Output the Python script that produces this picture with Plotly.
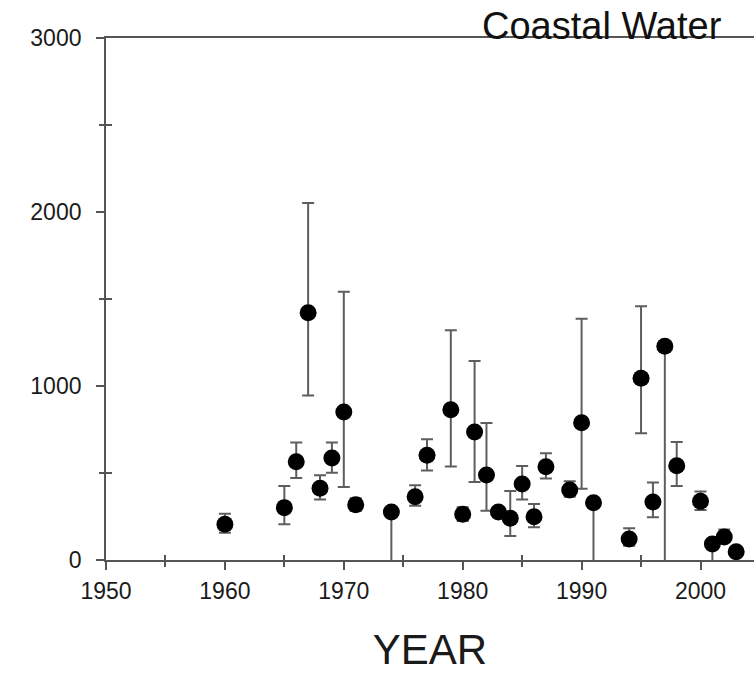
import plotly.graph_objects as go

years = [1960, 1965, 1966, 1967, 1968, 1969, 1970, 1971, 1974, 1976, 1977, 1979,
         1980, 1981, 1982, 1983, 1984, 1985, 1986, 1987, 1989, 1990, 1991, 1994,
         1995, 1996, 1997, 1998, 2000, 2001, 2002, 2003]
values = [205, 301, 565, 1421, 412, 586, 851, 318, 276, 364, 602, 864,
          263, 736, 489, 276, 240, 437, 249, 536, 402, 789, 329, 121,
          1044, 333, 1228, 542, 337, 92, 132, 48]
# upper / lower ends of the error bars (negative = runs below the axis)
err_top = [266, 425, 676, 2052, 487, 676, 1542, 355, 276, 429, 694, 1320,
           303, 1144, 787, 300, 397, 540, 322, 613, 452, 1387, 329, 182,
           1458, 446, 1228, 678, 393, 92, 176, 60]
err_bottom = [157, 205, 471, 946, 347, 502, 420, 282, -200, 312, 515, 538,
              224, 448, 283, 255, 138, 347, 188, 469, 364, 410, -200, 82,
              728, 245, -200, 425, 287, -200, 110, 40]

x_major = [1950, 1960, 1970, 1980, 1990, 2000]
x_minor = [1955, 1965, 1975, 1985, 1995]
y_major = [0, 1000, 2000, 3000]
y_minor = [500, 1500, 2500]

plus = [t - v for t, v in zip(err_top, values)]
minus = [v - b for v, b in zip(values, err_bottom)]

FONT = "Liberation Sans, Arial, sans-serif"
AXC = "#555555"
XR = [1950, 2004.5]
YR = [0, 3000]

fig = go.Figure()
fig.add_trace(go.Scatter(
    x=years, y=values, mode="markers",
    marker=dict(color="black", size=17, line=dict(width=0)),
    error_y=dict(type="data", symmetric=False, array=plus, arrayminus=minus,
                 color="#5e5e5e", thickness=2, width=6),
    showlegend=False, hoverinfo="x+y",
))
# invisible trace to carry the overlay axes (inside half of crossing minor ticks)
fig.add_trace(go.Scatter(x=[years[0]], y=[values[0]], xaxis="x2", yaxis="y2",
                         mode="markers", marker=dict(opacity=0), showlegend=False,
                         hoverinfo="skip"))

fig.update_layout(
    width=754, height=673,
    margin=dict(l=106, r=0, t=38, b=113),
    paper_bgcolor="white", plot_bgcolor="white",
    font=dict(family=FONT, color="#1a1a1a"),
    xaxis=dict(range=XR, tickvals=x_major, ticks="outside", ticklen=8,
               tickwidth=1.5, tickcolor=AXC, showline=True, linecolor=AXC,
               linewidth=1.8, mirror=True, showgrid=False, zeroline=False,
               tickfont=dict(size=23), ticklabelstandoff=1,
               minor=dict(tickvals=x_minor, ticks="outside", ticklen=5,
                          tickwidth=1.5, tickcolor=AXC, showgrid=False),
               title=dict(text="YEAR", font=dict(size=42), standoff=32)),
    yaxis=dict(range=YR, tickvals=y_major, ticks="outside", ticklen=8,
               tickwidth=1.5, tickcolor=AXC, showline=True, linecolor=AXC,
               linewidth=1.8, showgrid=False, zeroline=False,
               tickfont=dict(size=23), ticklabelstandoff=10,
               minor=dict(tickvals=y_minor, ticks="outside", ticklen=5,
                          tickwidth=1.5, tickcolor=AXC, showgrid=False)),
    xaxis2=dict(range=XR, overlaying="x", side="bottom", anchor="y",
                tickvals=x_minor, ticks="inside", ticklen=5, tickwidth=1.5,
                tickcolor=AXC, showticklabels=False, showline=False,
                showgrid=False, zeroline=False),
    yaxis2=dict(range=YR, overlaying="y", side="left", anchor="x",
                tickvals=y_minor, ticks="inside", ticklen=6, tickwidth=1.5,
                tickcolor=AXC, showticklabels=False, showline=False,
                showgrid=False, zeroline=False),
    annotations=[dict(text="Coastal Water", xref="paper", yref="paper",
                      x=0.7647, y=1, xanchor="center", yanchor="bottom",
                      yshift=-11, showarrow=False,
                      font=dict(size=38, family=FONT, color="#111111"))],
)

fig.write_html("out.html")
